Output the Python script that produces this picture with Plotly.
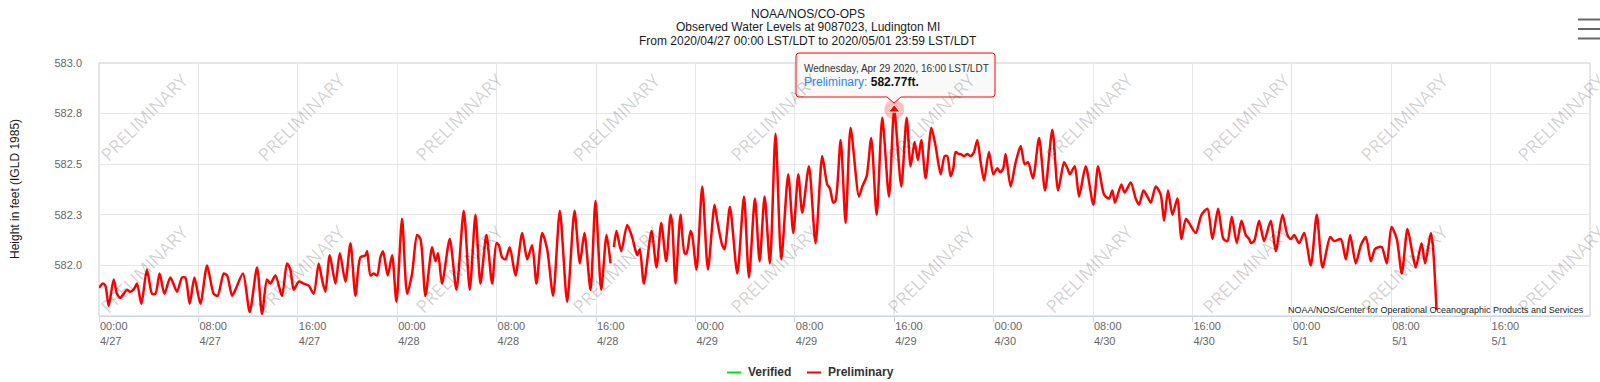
import plotly.graph_objects as go
import pandas as pd

# ---------------- data ----------------
start_time = "2020-04-27 00:00"
hours = [
    0.0, 0.32, 0.51, 0.78, 1.18, 1.45, 1.72, 1.99, 2.25, 2.52, 2.79, 3.06, 3.41, 3.86, 4.27, 4.54, 4.88,
    5.26, 5.74, 6.28, 6.68, 6.95, 7.30, 7.68, 8.16, 8.70, 9.23, 9.55, 10.04, 10.31, 10.71, 10.98, 11.59,
    12.13, 12.72, 13.12, 13.52, 13.79, 14.20, 14.73, 15.13, 15.40, 15.67, 16.08, 16.48, 16.88, 17.28,
    17.68, 17.95, 18.22, 18.57, 19.03, 19.38, 19.83, 20.24, 20.64, 21.04, 21.44, 21.58, 21.85, 22.11,
    22.38, 22.65,
    22.86, 23.24, 23.59, 23.94, 24.39, 24.80, 25.20, 25.60, 25.87, 26.27, 26.81, 27.08, 27.29, 27.61,
    28.23, 28.77, 29.36, 29.84, 30.30, 30.70, 31.18, 31.64, 31.99, 32.18, 32.44, 32.71, 33.06, 33.52,
    34.06, 34.46, 34.86, 35.21, 35.67, 36.07, 36.55, 37.09, 37.68, 38.27, 38.70, 39.07, 39.56, 39.96,
    40.42, 40.85, 41.17, 41.30, 41.44, 41.65, 42.03, 42.51, 42.91, 43.31, 43.53, 43.85, 44.47, 44.87,
    45.25, 45.65, 46.00,
    46.13, 46.40, 46.80, 47.13, 47.29, 47.61, 47.74, 48.09, 48.55, 49.01, 49.54, 49.76, 50.16, 50.35,
    50.78, 51.37, 51.91, 52.31, 52.79, 53.17, 53.57, 54.00, 54.45, 54.91, 55.47, 55.88, 56.28, 56.60,
    57.14, 57.67, 58.21, 58.61, 58.83, 59.09, 59.28, 59.69, 60.09, 60.49, 61.16, 61.43, 61.78, 62.15,
    62.59, 63.04, 63.58, 64.00, 64.57, 65.00, 65.32, 65.64, 65.91, 66.18, 66.53, 66.99, 67.33, 67.74,
    68.06, 68.27, 68.54, 68.76, 68.94, 69.21, 69.35,
    69.62, 69.89, 70.15, 70.42, 70.69, 70.96, 71.23, 71.63, 71.98, 72.30, 72.52, 72.78, 72.97, 73.37,
    73.78, 74.18, 74.50, 74.77, 75.17, 75.66, 76.14, 76.73, 77.19, 77.67, 77.94, 78.15, 78.53, 78.88,
    79.41, 80.03, 80.41, 80.89, 81.29, 81.56, 81.77, 82.28, 82.55, 83.04, 83.44, 83.71, 84.06, 84.38,
    84.65, 85.05, 85.45, 85.72, 86.04, 86.39, 86.79, 87.12, 87.47, 87.73, 88.27, 88.73, 89.21, 89.61,
    90.07, 90.50, 90.82, 91.17, 91.57, 91.95, 92.30, 92.57, 92.70,
    92.97, 93.37, 93.77, 94.31, 94.71, 95.25, 95.65, 95.92, 96.19, 96.59, 97.00, 97.53, 98.01, 98.47,
    99.09, 99.41, 99.95, 100.35, 100.70, 101.15, 101.56, 101.96, 102.36, 102.68, 102.95, 103.25,
    103.65, 104.02, 104.45, 104.85, 105.31, 105.71, 105.98, 106.44, 106.73, 107.19, 107.35, 107.65,
]
level_ft = [
    581.89, 581.91, 581.90, 581.80, 581.93, 581.86, 581.84, 581.86, 581.88, 581.87, 581.88, 581.91, 581.81,
    581.98, 581.86, 581.86, 581.96, 581.86, 581.94, 581.87, 581.94, 581.94, 581.81, 581.94, 581.81, 582.00,
    581.86, 581.85, 581.96, 581.95, 581.85, 581.88, 581.96, 581.77, 581.99, 581.76, 581.93, 581.91, 581.95,
    581.85, 582.01, 581.98, 581.88, 581.92, 581.91, 581.90, 581.86, 582.01, 581.93, 581.87, 582.05, 581.91,
    582.06, 581.92, 582.11, 581.85, 582.04, 582.05, 582.07, 581.95, 581.96, 581.95, 582.04,
    582.07, 581.95, 582.05, 581.82, 582.23, 581.86, 581.96, 582.15, 582.13, 581.85, 582.09, 582.02, 582.06,
    581.91, 582.13, 581.88, 582.27, 581.88, 582.25, 581.91, 582.15, 581.91, 582.11, 582.10, 582.04, 582.03,
    582.09, 581.95, 582.16, 582.03, 582.10, 581.91, 582.16, 582.08, 581.85, 582.27, 581.82, 582.27, 582.01,
    582.16, 581.88, 582.32, 581.88, 582.15, 582.01, None, 582.09, 582.17, 582.07, 582.20, 582.14, 582.05,
    582.08, 581.91, 582.17, 581.99, 582.21, 582.02, 582.25,
    582.21, 581.91, 582.25, 582.06, 582.06, 582.17, 582.15, 581.98, 582.39, 581.98, 582.30, 582.22, 582.10,
    582.08, 582.29, 581.96, 582.34, 581.94, 582.33, 582.02, 582.34, 582.01, 582.65, 582.03, 582.45, 582.16,
    582.45, 582.26, 582.49, 582.11, 582.54, 582.40, 582.38, 582.31, 582.32, 582.62, 582.21, 582.68, 582.34,
    582.39, 582.44, 582.63, 582.25, 582.73, 582.34, 582.77, 582.39, 582.73, 582.49, 582.61, 582.52, 582.62,
    582.43, 582.68, 582.59, 582.45, 582.54, 582.54, 582.44, 582.48, 582.56, 582.55, 582.55,
    582.54, 582.55, 582.54, 582.56, 582.62, 582.51, 582.42, 582.56, 582.45, 582.48, 582.46, 582.48, 582.55,
    582.39, 582.51, 582.59, 582.50, 582.51, 582.43, 582.63, 582.37, 582.67, 582.37, 582.51, 582.48, 582.45,
    582.49, 582.34, 582.49, 582.30, 582.49, 582.35, 582.33, 582.37, 582.31, 582.40, 582.36, 582.41, 582.33,
    582.30, 582.37, 582.34, 582.31, 582.39, 582.35, 582.22, 582.37, 582.25, 582.33, 582.13, 582.23, 582.21,
    582.16, 582.25, 582.28, 582.13, 582.28, 582.13, 582.12, 582.24, 582.11, 582.22, 582.15, 582.13, 582.11,
    582.12, 582.22, 582.12, 582.22, 582.07, 582.25, 582.15, 582.13, 582.15, 582.11, 582.16, 582.00, 582.25,
    581.99, 582.14, 582.12, 582.13, 582.03, 582.15, 582.01, 582.10, 582.14, 582.02, 582.08, 582.09, 582.09,
    582.01, 582.19, 582.13, 581.96, 582.18, 582.06, 581.99, 582.11, 582.01, 582.16, 582.10, 581.78,
]

tick_hours = [0, 8, 16, 24, 32, 40, 48, 56, 64, 72, 80, 88, 96, 104, 112]
tick_labels = [
    "00:00<br>4/27", "08:00<br>4/27", "16:00<br>4/27",
    "00:00<br>4/28", "08:00<br>4/28", "16:00<br>4/28",
    "00:00<br>4/29", "08:00<br>4/29", "16:00<br>4/29",
    "00:00<br>4/30", "08:00<br>4/30", "16:00<br>4/30",
    "00:00<br>5/1", "08:00<br>5/1", "16:00<br>5/1",
]
range_hours = [0, 120]
y_ticks = [581.75, 582.0, 582.25, 582.5, 582.75, 583.0]
y_tick_labels = ["", "582.0", "582.3", "582.5", "582.8", "583.0"]
y_range = [581.75, 583.0]

title_lines = [
    "NOAA/NOS/CO-OPS",
    "Observed Water Levels at 9087023, Ludington MI",
    "From 2020/04/27 00:00 LST/LDT to 2020/05/01 23:59 LST/LDT",
]
y_title = "Height in feet (IGLD 1985)"
credits = "NOAA/NOS/Center for Operational Oceanographic Products and Services"
watermark = "PRELIMINARY"
legend_names = ["Verified", "Preliminary"]
legend_colors = ["#00e600", "#ff0000"]
tooltip_hour = 64.0
tooltip_value = 582.77
tooltip_date = "Wednesday, Apr 29 2020, 16:00 LST/LDT"
tooltip_series = "Preliminary:"
tooltip_text = "582.77ft."

# ---------------- geometry helpers ----------------
W, H = 1600, 382
L, R, T, B = 99, 10, 63, 66
PW, PH = W - L - R, H - T - B


def px(x):
    return (x - L) / PW


def py(y):
    return (H - B - y) / PH


t0 = pd.Timestamp(start_time)
times = [t0 + pd.Timedelta(hours=h) for h in hours]
tick_vals = [t0 + pd.Timedelta(hours=h) for h in tick_hours]
x_range = [t0 + pd.Timedelta(hours=h) for h in range_hours]
tip_time = t0 + pd.Timedelta(hours=tooltip_hour)

SANS = "Liberation Sans, Arial, sans-serif"

fig = go.Figure()
fig.add_trace(go.Scatter(
    x=times, y=level_ft, mode="lines", name=legend_names[1],
    line=dict(color=legend_colors[1], width=2.5, shape="spline", smoothing=0.7),
    connectgaps=False, hoverinfo="skip", showlegend=False,
))
# hover halo + marker
fig.add_trace(go.Scatter(
    x=[tip_time], y=[tooltip_value], mode="markers", hoverinfo="skip", showlegend=False,
    marker=dict(size=20, color="rgba(255,0,0,0.25)", line=dict(width=0)),
))
fig.add_trace(go.Scatter(
    x=[tip_time], y=[tooltip_value], mode="markers", hoverinfo="skip", showlegend=False,
    marker=dict(size=10, symbol="triangle-up", color="#ff0000", line=dict(width=1, color="#ffffff")),
))

shapes = []
# plot border
shapes.append(dict(type="rect", xref="paper", yref="paper", x0=0, x1=1, y0=0, y1=1,
                   line=dict(color="#cccccc", width=1), layer="between"))
# crosshair
shapes.append(dict(type="line", xref="x", yref="paper", x0=tip_time, x1=tip_time, y0=0, y1=1,
                   line=dict(color="#cccccc", width=1), layer="between"))
# tooltip box with pointer
bx0, bx1, by0, by1 = 796, 995, 53, 97
tip_x = 894
path = (f"M {px(bx0+3)},{py(by0)} L {px(bx1-3)},{py(by0)} Q {px(bx1)},{py(by0)} {px(bx1)},{py(by0+3)} "
        f"L {px(bx1)},{py(by1-3)} Q {px(bx1)},{py(by1)} {px(bx1-3)},{py(by1)} "
        f"L {px(tip_x+7)},{py(by1)} L {px(tip_x)},{py(by1+6)} L {px(tip_x-7)},{py(by1)} "
        f"L {px(bx0+3)},{py(by1)} Q {px(bx0)},{py(by1)} {px(bx0)},{py(by1-3)} "
        f"L {px(bx0)},{py(by0+3)} Q {px(bx0)},{py(by0)} {px(bx0+3)},{py(by0)} Z")
shapes.append(dict(type="path", xref="paper", yref="paper", path=path,
                   fillcolor="rgba(249,249,249,0.92)", line=dict(color="#ff0000", width=1), layer="above"))
# legend symbols
shapes.append(dict(type="line", xref="paper", yref="paper", x0=px(727), x1=px(741), y0=py(372.5), y1=py(372.5),
                   line=dict(color=legend_colors[0], width=2)))
shapes.append(dict(type="line", xref="paper", yref="paper", x0=px(807), x1=px(821), y0=py(372.5), y1=py(372.5),
                   line=dict(color=legend_colors[1], width=2)))
# menu (hamburger) icon
for yy in [19.5, 29, 38.5]:
    shapes.append(dict(type="line", xref="paper", yref="paper", x0=px(1578), x1=px(1601), y0=py(yy), y1=py(yy),
                       line=dict(color="#666666", width=2)))

annotations = []
# watermarks
wm_x = [144 + 157.5 * k for k in range(10)]
for row_y in [117, 269]:
    for x in wm_x:
        annotations.append(dict(text=watermark, xref="paper", yref="paper", x=px(x), y=py(row_y),
                                showarrow=False, textangle=-45, xanchor="center", yanchor="middle",
                                font=dict(family="Open Sans, sans-serif", size=18, color="rgba(0,0,0,0.19)")))
# title
for txt, yy in zip(title_lines, [13.5, 27, 41]):
    annotations.append(dict(text=txt, xref="paper", yref="paper", x=px(808), y=py(yy), showarrow=False,
                            xanchor="center", yanchor="middle",
                            font=dict(family=SANS, size=12, color="#1a1a1a")))
# y-axis title
annotations.append(dict(text=y_title, xref="paper", yref="paper", x=px(15), y=py(189), showarrow=False,
                        textangle=-90, xanchor="center", yanchor="middle",
                        font=dict(family=SANS, size=12, color="#1a1a1a")))
# credits
annotations.append(dict(text=credits, xref="paper", yref="paper", x=px(1586), y=py(309.5), showarrow=False,
                        xanchor="right", yanchor="middle",
                        font=dict(family=SANS, size=9, color="#222222")))
# legend texts
annotations.append(dict(text=f"<b>{legend_names[0]}</b>", xref="paper", yref="paper", x=px(745.5), y=py(372),
                        showarrow=False, xanchor="left", yanchor="middle",
                        font=dict(family=SANS, size=12, color="#333333")))
annotations.append(dict(text=f"<b>{legend_names[1]}</b>", xref="paper", yref="paper", x=px(826), y=py(372),
                        showarrow=False, xanchor="left", yanchor="middle",
                        font=dict(family=SANS, size=12, color="#333333")))
# tooltip text
annotations.append(dict(text=tooltip_date, xref="paper", yref="paper", x=px(802), y=py(68), showarrow=False,
                        xanchor="left", yanchor="middle",
                        font=dict(family=SANS, size=10, color="#333333")))
annotations.append(dict(text=f"<span style='color:#2f86ff'>{tooltip_series}</span> <b>{tooltip_text}</b>",
                        xref="paper", yref="paper", x=px(802), y=py(82), showarrow=False,
                        xanchor="left", yanchor="middle",
                        font=dict(family=SANS, size=12, color="#111111")))

fig.update_layout(
    width=W, height=H,
    margin=dict(l=L, r=R, t=T, b=B, pad=0),
    paper_bgcolor="#ffffff", plot_bgcolor="#ffffff",
    showlegend=False,
    shapes=shapes, annotations=annotations,
    xaxis=dict(
        type="date", range=x_range, tickmode="array", tickvals=tick_vals, ticktext=tick_labels,
        ticklabelposition="outside right", ticks="outside", ticklen=5, tickcolor="#ccd6eb",
        showgrid=True, gridcolor="#e6e6e6", gridwidth=1, zeroline=False,
        showline=True, linecolor="#ccd6eb", linewidth=1,
        tickfont=dict(family=SANS, size=11, color="#666666"),
    ),
    yaxis=dict(
        range=y_range, tickmode="array", tickvals=y_ticks, ticktext=y_tick_labels,
        showgrid=True, gridcolor="#e6e6e6", gridwidth=1, zeroline=False, showline=False,
        ticks="", ticklabelstandoff=16,
        tickfont=dict(family=SANS, size=11, color="#666666"),
    ),
)

fig.write_html(
    "out.html",
    config={"displayModeBar": False},
    post_script="document.body.style.margin='0';document.body.style.overflow='hidden';",
)
